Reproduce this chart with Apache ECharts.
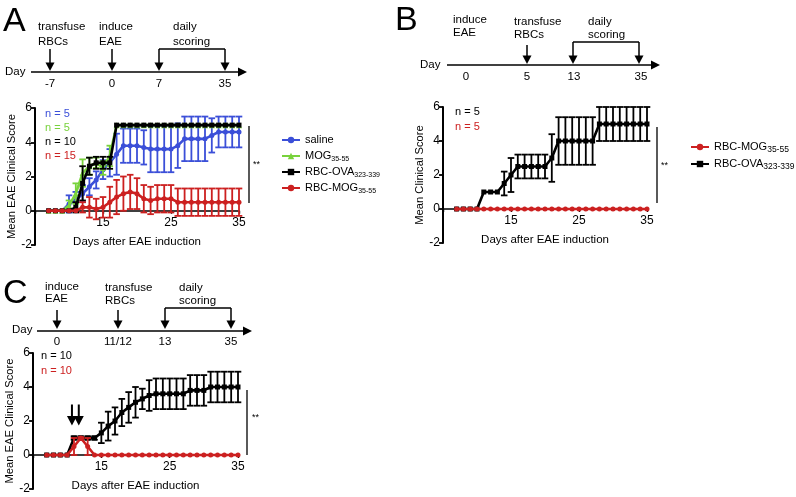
<!DOCTYPE html>
<html><head><meta charset="utf-8">
<script src="https://cdn.jsdelivr.net/npm/echarts@6/dist/echarts.min.js"></script>
<style>html,body{margin:0;padding:0;background:#fff}#c{width:796px;height:497px}</style>
</head><body><div id="c"></div>
<script>
// ---------------- DATA ----------------
const days = [7,8,9,10,11,12,13,14,15,16,17,18,19,20,21,22,23,24,25,26,27,28,29,30,31,32,33,34,35];
const yTicks = [-2, 0, 2, 4, 6];
const xTicks = [15, 25, 35];

// Panel A
const salineMean = [0,0,0,0.4,0.6,1.0,1.4,1.8,2.4,2.8,3.3,3.8,3.8,3.8,3.7,3.6,3.6,3.6,3.6,3.8,4.2,4.2,4.2,4.2,4.4,4.6,4.6,4.6,4.6];
const salineErr  = [0,0,0,0.5,0.5,0.5,0.5,0.5,0.55,0.8,1.2,1.0,1.0,1.0,1.0,1.35,1.35,1.35,1.35,1.3,1.3,1.3,1.3,1.3,1.0,0.9,0.9,0.9,0.9];
const mogMean    = [0,0,0,0.3,1.0,2.2,2.6,2.8,2.5,3.2,5,5,5,5,5,5,5,5,5,5,5,5,5,5,5,5,5,5,5];
const mogErr     = [0,0,0,0.3,0.6,0.8,0.5,0.3,0.4,0.6,0,0,0,0,0,0,0,0,0,0,0,0,0,0,0,0,0,0,0];
const ovaAMean   = [0,0,0,0,0.2,1.6,2.6,2.8,2.8,2.8,5,5,5,5,5,5,5,5,5,5,5,5,5,5,5,5,5,5,5];
const ovaAErr    = [0,0,0,0,0.3,1.0,0.5,0.35,0.35,0.35,0,0,0,0,0,0,0,0,0,0,0,0,0,0,0,0,0,0,0];
const rbcMogAMean= [0,0,0,0,0,0.2,0.2,0.1,0.2,0.5,0.8,1.0,1.1,1.0,0.7,0.6,0.7,0.7,0.7,0.5,0.5,0.5,0.5,0.5,0.5,0.5,0.5,0.5,0.5];
const rbcMogAErr = [0,0,0,0,0,0.3,0.6,0.6,0.6,0.9,1.0,1.0,1.0,0.9,0.8,0.8,0.8,0.8,0.8,0.8,0.8,0.8,0.8,0.8,0.8,0.8,0.8,0.8,0.8];

// Panel B
const ovaBMean   = [0,0,0,0,1,1,1,1.5,2.0,2.5,2.5,2.5,2.5,2.5,3.0,4,4,4,4,4,4,5,5,5,5,5,5,5,5];
const ovaBErr    = [0,0,0,0,0,0,0,0.7,1.0,0.7,0.7,0.7,0.7,0.7,1.4,1.4,1.4,1.4,1.4,1.4,1.4,1.0,1.0,1.0,1.0,1.0,1.0,1.0,1.0];
const rbcMogBMean= [0,0,0,0,0,0,0,0,0,0,0,0,0,0,0,0,0,0,0,0,0,0,0,0,0,0,0,0,0];
const rbcMogBErr = [0,0,0,0,0,0,0,0,0,0,0,0,0,0,0,0,0,0,0,0,0,0,0,0,0,0,0,0,0];

// Panel C
const ovaCMean   = [0,0,0,0,1.0,1.0,1.0,1.0,1.3,1.7,2.0,2.5,2.8,3.1,3.3,3.5,3.6,3.6,3.6,3.6,3.6,3.8,3.8,3.8,4.0,4.0,4.0,4.0,4.0];
const ovaCErr    = [0,0,0,0,0.1,0.1,0.1,0.1,0.6,0.85,0.8,0.8,0.9,0.9,0.6,0.9,0.9,0.9,0.9,0.9,0.9,0.9,0.9,0.9,0.9,0.9,0.9,0.9,0.9];
const rbcMogCMean= [0,0,0,0,0.5,1.0,0.5,0,0,0,0,0,0,0,0,0,0,0,0,0,0,0,0,0,0,0,0,0,0];
const rbcMogCErr = [0,0,0,0,0.5,0.05,0.5,0,0,0,0,0,0,0,0,0,0,0,0,0,0,0,0,0,0,0,0,0,0];
const transfusionDaysC = [11, 12];

// ---------------- STYLE ----------------
const FF = '"Liberation Sans", Arial, Helvetica, sans-serif';
const BLUE = '#3b4fd8', GREEN = '#78d23c', BLACK = '#000000', RED = '#cc2020';

function lineS(name, gi, mean, color, symbol, size, z) {
  return {type:'line', name, xAxisIndex:gi, yAxisIndex:gi,
    data: days.map((d,i)=>[d, mean[i]]), symbol, symbolSize:size, showSymbol:true,
    lineStyle:{color, width:2.6}, itemStyle:{color}, z, animation:false, silent:true};
}
function errS(gi, mean, err, color, z) {
  return {type:'custom', xAxisIndex:gi, yAxisIndex:gi, z, silent:true, animation:false,
    data: days.map((d,i)=>[d, mean[i], err[i]]), encode:{x:0, y:1},
    renderItem:(p, api)=>{
      const x = api.value(0), m = api.value(1), e = api.value(2);
      if (!e) return null;
      const t = api.coord([x, m+e]), b = api.coord([x, m-e]), hw = 3.3;
      const st = {stroke:color, lineWidth:1.8};
      return {type:'group', children:[
        {type:'line', shape:{x1:t[0],y1:t[1],x2:b[0],y2:b[1]}, style:st},
        {type:'line', shape:{x1:t[0]-hw,y1:t[1],x2:t[0]+hw,y2:t[1]}, style:st},
        {type:'line', shape:{x1:b[0]-hw,y1:b[1],x2:b[0]+hw,y2:b[1]}, style:st}
      ]};
    }};
}
// x axis drawn at the y = 0 level (2 of 8 units above the grid bottom)
function xAx(gi, h) {
  return {type:'value', gridIndex:gi, min:5, max:35, interval:10, offset:-h/4,
    axisLine:{onZero:false, lineStyle:{color:'#000', width:1.6}},
    axisTick:{show:true, length:3, lineStyle:{color:'#000', width:1.4}},
    axisLabel:{color:'#000', fontFamily:FF, fontSize:12, margin:6,
      formatter:v=> xTicks.includes(v) ? String(v) : ''},
    splitLine:{show:false},
    name:'Days after EAE induction', nameLocation:'middle', nameGap:25,
    nameTextStyle:{color:'#000', fontFamily:FF, fontSize:11.5}};
}
function yAx(gi, name) {
  return {type:'value', gridIndex:gi, min:-2, max:6, interval:2,
    axisLine:{show:true, onZero:false, lineStyle:{color:'#000', width:2}},
    axisTick:{show:true, length:4, lineStyle:{color:'#000', width:1.8}},
    axisLabel:{color:'#000', fontFamily:FF, fontSize:12, margin:3,
      formatter:v=> yTicks.includes(v) ? String(v) : ''},
    splitLine:{show:false},
    name, nameLocation:'middle', nameGap:18, nameRotate:90,
    nameTextStyle:{color:'#000', fontFamily:FF, fontSize:11.2}};
}

const labelMap = {
  A_saline:'saline', A_mog:'MOG{s|35-55}', A_ova:'RBC-OVA{s|323-339}', A_rbcmog:'RBC-MOG{s|35-55}',
  B_rbcmog:'RBC-MOG{t|35-55}', B_ova:'RBC-OVA{t|323-339}'
};

// --------------- GRAPHIC (timelines / annotations) ---------------
const G = [];
function txt(x, y, s, o={}) {
  G.push({type:'text', x, y, silent:true, style:Object.assign({text:s, fill:'#000',
    font:(o.size||11.5)+'px '+FF, align:o.align||'left', verticalAlign:'middle'}, o.st||{})});
}
function ln(x1,y1,x2,y2,w=1.5) {
  G.push({type:'line', silent:true, shape:{x1,y1,x2,y2}, style:{stroke:'#000', lineWidth:w}});
}
function arrowDown(x, y1, y2) {
  ln(x, y1, x, y2-6);
  G.push({type:'polygon', silent:true, shape:{points:[[x-4.5,y2-8.5],[x+4.5,y2-8.5],[x,y2]]}, style:{fill:'#000'}});
}
function timeline(x1, x2, y) {
  ln(x1, y, x2, y);
  G.push({type:'polygon', silent:true, shape:{points:[[x2-1,y-4.5],[x2-1,y+4.5],[x2+8,y]]}, style:{fill:'#000'}});
}
function bracket(xa, xb, yTop, yBot) {
  ln(xa, yTop, xb, yTop);
  arrowDown(xa, yTop, yBot); arrowDown(xb, yTop, yBot);
}

// Panel A timeline
txt(3, 22, 'A', {size:34});
txt(5, 72, 'Day');
timeline(31, 239, 72);
txt(38, 27, 'transfuse'); txt(38, 42, 'RBCs');
txt(99, 27, 'induce'); txt(99, 42, 'EAE');
txt(173, 27, 'daily'); txt(173, 42, 'scoring');
arrowDown(50, 49, 71); arrowDown(112, 49, 71);
bracket(159, 225, 49, 71);
txt(50, 84, '-7', {align:'center'}); txt(112, 84, '0', {align:'center'});
txt(159, 84, '7', {align:'center'}); txt(225, 84, '35', {align:'center'});
// n labels A
txt(45, 114, 'n = 5', {size:11, st:{fill:BLUE}});
txt(45, 128, 'n = 5', {size:11, st:{fill:GREEN}});
txt(45, 142, 'n = 10', {size:11});
txt(45, 156, 'n = 15', {size:11, st:{fill:RED}});
ln(249, 126, 249, 203, 1.3); txt(253, 165, '**', {size:9});

// Panel B timeline
txt(395, 21, 'B', {size:34});
txt(420, 65, 'Day');
timeline(447, 652, 65);
txt(453, 20, 'induce'); txt(453, 33, 'EAE');
txt(514, 22, 'transfuse'); txt(514, 35, 'RBCs');
txt(588, 22, 'daily'); txt(588, 35, 'scoring');
arrowDown(527, 45, 64);
bracket(573, 639, 42, 64);
txt(466, 77, '0', {align:'center'}); txt(527, 77, '5', {align:'center'});
txt(574, 77, '13', {align:'center'}); txt(641, 77, '35', {align:'center'});
txt(455, 112, 'n = 5', {size:11});
txt(455, 127, 'n = 5', {size:11, st:{fill:RED}});
ln(657, 127, 657, 203, 1.3); txt(661, 166, '**', {size:9});

// Panel C timeline
txt(3, 294, 'C', {size:34});
txt(12, 330, 'Day');
timeline(37, 244, 331);
txt(45, 287, 'induce'); txt(45, 299, 'EAE');
txt(105, 288, 'transfuse'); txt(105, 301, 'RBCs');
txt(179, 288, 'daily'); txt(179, 301, 'scoring');
arrowDown(57, 310, 329); arrowDown(118, 310, 329);
bracket(165, 231, 308, 329);
txt(57, 342, '0', {align:'center'}); txt(118, 342, '11/12', {align:'center'});
txt(165, 342, '13', {align:'center'}); txt(231, 342, '35', {align:'center'});
txt(41, 356, 'n = 10', {size:11});
txt(41, 371, 'n = 10', {size:11, st:{fill:RED}});
ln(247, 390, 247, 455, 1.3); txt(252, 418, '**', {size:9});

// --------------- SERIES ---------------
const series = [
  errS(0, salineMean, salineErr, BLUE, 2), lineS('A_saline', 0, salineMean, BLUE, 'circle', 5, 2),
  errS(0, mogMean, mogErr, GREEN, 3), lineS('A_mog', 0, mogMean, GREEN, 'triangle', 6, 3),
  errS(0, ovaAMean, ovaAErr, BLACK, 4), lineS('A_ova', 0, ovaAMean, BLACK, 'rect', 5, 4),
  errS(0, rbcMogAMean, rbcMogAErr, RED, 5), lineS('A_rbcmog', 0, rbcMogAMean, RED, 'circle', 5, 5),

  errS(1, ovaBMean, ovaBErr, BLACK, 4), lineS('B_ova', 1, ovaBMean, BLACK, 'rect', 5, 4),
  errS(1, rbcMogBMean, rbcMogBErr, RED, 5), lineS('B_rbcmog', 1, rbcMogBMean, RED, 'circle', 5, 5),

  errS(2, ovaCMean, ovaCErr, BLACK, 4),
  Object.assign(lineS('C_ova', 2, ovaCMean, BLACK, 'rect', 5, 4), {
    markPoint:{silent:true, animation:false, symbol:'path://M4,0 L6,0 L6,11 L10,11 L5,20 L0,11 L4,11 Z',
      symbolSize:[10,21], itemStyle:{color:'#000'}, label:{show:false},
      data: transfusionDaysC.map(d=>({coord:[d - 0.3, 2.35]}))}
  }),
  errS(2, rbcMogCMean, rbcMogCErr, RED, 5), lineS('C_rbcmog', 2, rbcMogCMean, RED, 'circle', 5, 5)
];

const legendBase = {orient:'vertical', itemWidth:18, itemHeight:8, selectedMode:false, padding:0,
  formatter:n=>labelMap[n],
  textStyle:{fontFamily:FF, fontSize:11, color:'#000', lineHeight:14,
    rich:{s:{fontSize:7, fontFamily:FF, lineHeight:14, verticalAlign:'bottom', padding:[4,0,0,0]},
          t:{fontSize:8.5, fontFamily:FF, lineHeight:14, verticalAlign:'bottom', padding:[2,0,0,0]}}}};

const option = {
  animation:false,
  backgroundColor:'#fff',
  grid:[
    {left:35, top:108, width:204, height:137},
    {left:443, top:107, width:204, height:136},
    {left:33, top:353, width:205, height:136}
  ],
  xAxis:[xAx(0,137), xAx(1,136), xAx(2,136)],
  yAxis:[yAx(0,'Mean EAE Clinical Score'), yAx(1,'Mean Clinical Score'), yAx(2,'Mean EAE Clinical Score')],
  legend:[
    Object.assign({}, legendBase, {left:281, top:133, itemGap:2, data:['A_saline','A_mog','A_ova','A_rbcmog']}),
    Object.assign({}, legendBase, {left:690, top:140, itemGap:3, data:['B_rbcmog','B_ova']})
  ],
  graphic:G,
  series
};
const chart = echarts.init(document.getElementById('c'), null, {renderer:'canvas'});
chart.setOption(option);
</script></body></html>
